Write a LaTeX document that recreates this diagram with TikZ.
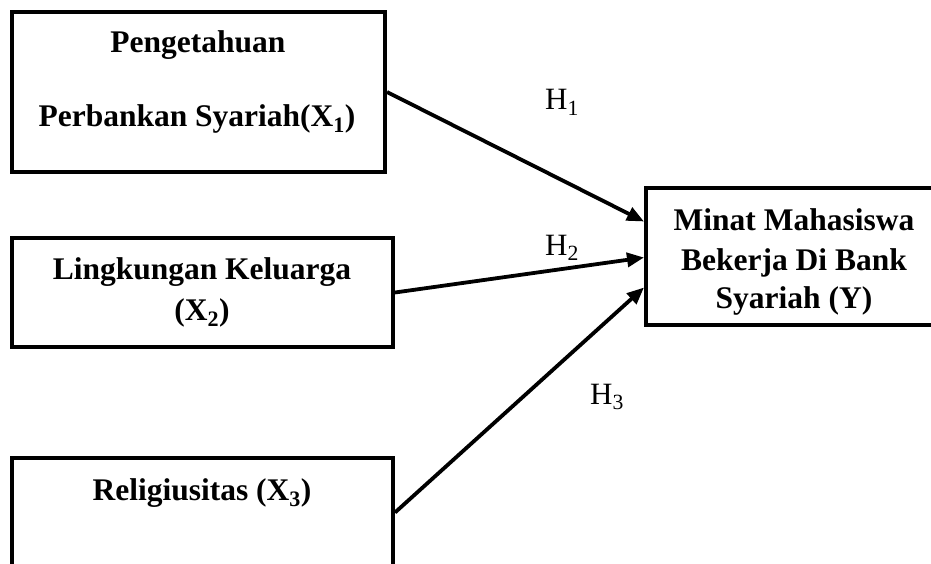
\documentclass[tikz,border=0pt]{standalone}
\usepackage{fontspec}
\setmainfont{Liberation Serif}
\usetikzlibrary{arrows.meta}
\begin{document}
\begin{tikzpicture}[x=1pt,y=-1pt,
  box/.style={draw,line width=4pt,inner sep=0pt},
  lbl/.style={font=\fontsize{31.5}{37}\selectfont\bfseries,anchor=base,inner sep=0pt},
  hyp/.style={font=\fontsize{31}{36}\selectfont,anchor=base west,inner sep=0pt},
  arr/.style={line width=3.8pt,-{Triangle[length=17pt,width=14pt]}}]
\useasboundingbox (0,0) rectangle (931,564);
\clip (0,0) rectangle (931,564);
% boxes
\node[box,minimum width=373pt,minimum height=160pt] (b1) at (198.5,92) {};
\node[box,minimum width=381pt,minimum height=109pt] (b2) at (202.5,292.5) {};
\node[box,minimum width=381pt,minimum height=109pt] (b3) at (202.5,512.5) {};
\node[box,minimum width=296pt,minimum height=137pt] (bY) at (794,256.5) {};
% texts
\node[lbl] (t1a) at (198,53) {Pengetahuan};
\node[lbl] (t1b) at (197,127) {Perbankan Syariah(X\textsubscript{1})};
\node[lbl] (t2a) at (202,279) {Lingkungan Keluarga};
\node[lbl] (t2b) at (202,320) {(X\textsubscript{2})};
\node[lbl] (t3a) at (202,500) {Religiusitas (X\textsubscript{3})};
\node[lbl] (tya) at (794,230) {Minat Mahasiswa};
\node[lbl] (tyb) at (794,270) {Bekerja Di Bank};
\node[lbl] (tyc) at (794,308) {Syariah (Y)};
% hypothesis labels
\node[hyp] (h1) at (545,110) {H\textsubscript{1}};
\node[hyp] (h2) at (545,255) {H\textsubscript{2}};
\node[hyp] (h3) at (590,404) {H\textsubscript{3}};
% arrows
\draw[arr] (b1.east) -- ([yshift=35pt]bY.west);
\draw[arr] (b2.east) -- ([yshift=-1pt]bY.west);
\draw[arr] (b3.east) -- ([yshift=-31pt]bY.west);
\end{tikzpicture}
\end{document}
